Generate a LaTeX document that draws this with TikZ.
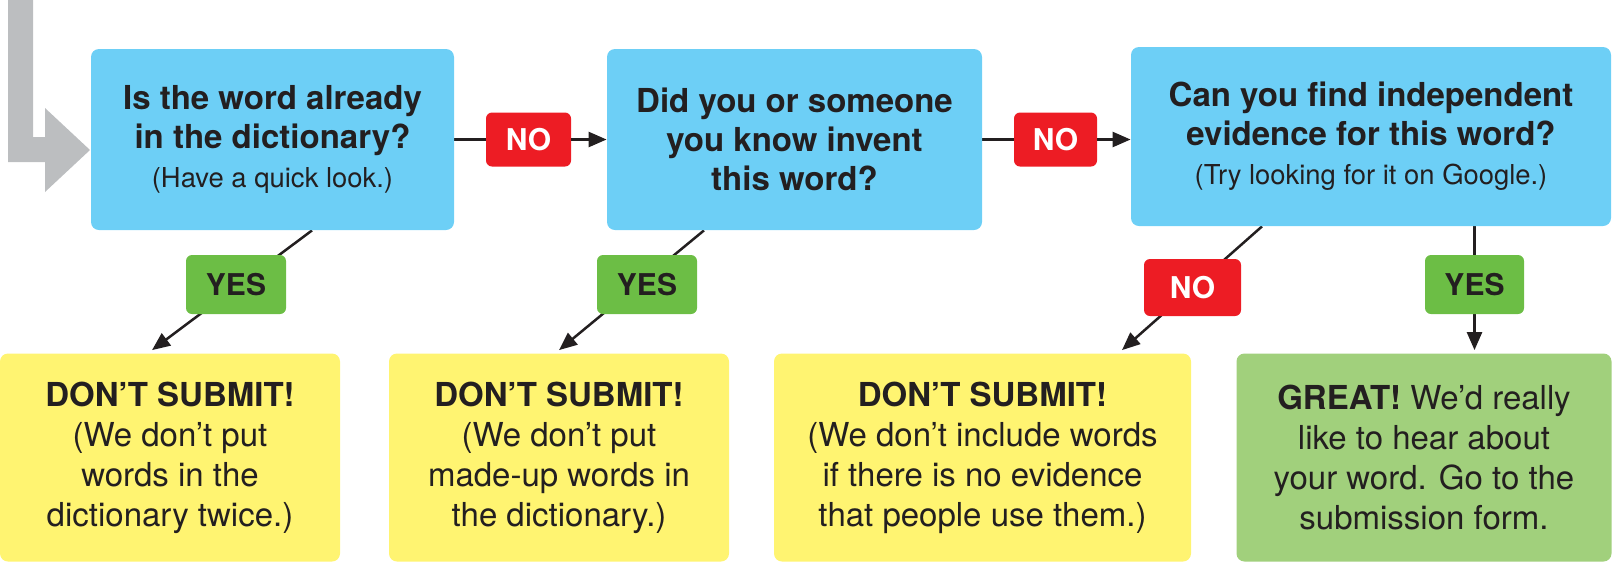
\documentclass[tikz,border=0pt]{standalone}
\usepackage{fontspec}
\setmainfont{TeX Gyre Heros}
\usetikzlibrary{arrows.meta,calc,backgrounds}
\definecolor{qblue}{HTML}{6DCFF6}
\definecolor{nored}{HTML}{ED1C24}
\definecolor{yesgreen}{HTML}{6CBE45}
\definecolor{goodgreen}{HTML}{A1D07C}
\definecolor{stopyellow}{HTML}{FFF471}
\definecolor{ink}{HTML}{231F20}
\definecolor{arrowgray}{HTML}{BCBEC0}
\begin{document}
\begin{tikzpicture}[x=0.5pt,y=-0.5pt,
  question/.style={fill=qblue, rounded corners=4pt, align=center, text=ink,
    inner sep=0pt, minimum height=90.5pt,
    font=\fontsize{16.5}{19.5}\selectfont\bfseries},
  result/.style={rounded corners=4pt, align=center, text=ink, inner sep=0pt,
    minimum height=104pt, font=\fontsize{16.5}{20}\selectfont},
  nolabel/.style={fill=nored, rounded corners=3pt, text=white, inner sep=0pt,
    minimum width=42.5pt, minimum height=27pt, font=\fontsize{15}{18}\selectfont\bfseries},
  yeslabel/.style={fill=yesgreen, rounded corners=3pt, text=ink, inner sep=0pt,
    minimum width=50pt, minimum height=29.5pt, font=\fontsize{15}{18}\selectfont\bfseries},
  link/.style={draw=ink, line width=1.25pt},
  arrow/.style={link, -{Triangle[length=9pt,width=7.5pt]}}]
\useasboundingbox (0,0) rectangle (1614,580);

% entry arrow
\fill[arrowgray] (8,0) -- (33,0) -- (33,137) -- (45,137) -- (45,108) -- (90,150)
  -- (45,192) -- (45,162) -- (8,162) -- cycle;

% questions
\node[question, minimum width=181.5pt] (b1) at (272.5,139.5)
  {Is the word already\\in the dictionary?\\{\fontsize{13.7}{19.5}\selectfont\mdseries (Have a quick look.)}};
\node[question, minimum width=187.5pt] (b2) at (794.5,139.5)
  {Did you or someone\\you know invent\\this word?};
\node[question, minimum width=240pt, minimum height=89.5pt] (b3) at (1371,136.5)
  {Can you find independent\\evidence for this word?\\{\fontsize{13.7}{19.5}\selectfont\mdseries (Try looking for it on Google.)}};

% labels
\node[nolabel] (no1) at (528.5,139.5) {NO};
\node[nolabel, minimum width=41.5pt] (no2) at (1055.5,139.5) {NO};
\node[yeslabel] (yes1) at (236,284.5) {YES};
\node[yeslabel] (yes2) at (647,284.5) {YES};
\node[nolabel, minimum width=48.5pt, minimum height=28.5pt] (no3) at (1192.5,287.5) {NO};
\node[yeslabel, minimum width=49.5pt] (yes3) at (1474.5,284.5) {YES};

% results
\node[result, fill=stopyellow, minimum width=170pt] (y1) at (170,457.5)
  {\textbf{DON’T SUBMIT!}\\(We don’t put\\words in the\\dictionary twice.)};
\node[result, fill=stopyellow, minimum width=170pt] (y2) at (559,457.5)
  {\textbf{DON’T SUBMIT!}\\(We don’t put\\made-up words in\\the dictionary.)};
\node[result, fill=stopyellow, minimum width=208.5pt] (y3) at (982.5,457.5)
  {\textbf{DON’T SUBMIT!}\\(We don’t include words\\if there is no evidence\\that people use them.)};
\node[result, fill=goodgreen, minimum width=187.5pt] (g) at (1424,457.5)
  {\textbf{GREAT!} We’d really\\like to hear about\\your word. Go to the\\submission form.};

% connectors (behind the labels)
\begin{scope}[on background layer]
\draw[link] (b1) -- (no1);
\draw[link] (b2.east |- no2) -- (no2);
\draw[arrow] ($(b1.south)+(39.5,0)$) -- ($(y1.north)+(-18,-3)$);
\draw[arrow] ($(b2.south)+(-90.5,0)$) -- ($(y2.north)+(0,-3)$);
\draw[arrow] ($(b3.south)+(-109,0)$) -- ($(y3.north)+(139.5,-3)$);
\draw[arrow] (b3.south -| yes3) -- ($(g.north -| yes3)+(0,-3)$);
\end{scope}
\draw[arrow] (no1) -- (b2.west |- no1);
\draw[arrow] (no2) -- (b3.west |- no2);
\end{tikzpicture}
\end{document}
